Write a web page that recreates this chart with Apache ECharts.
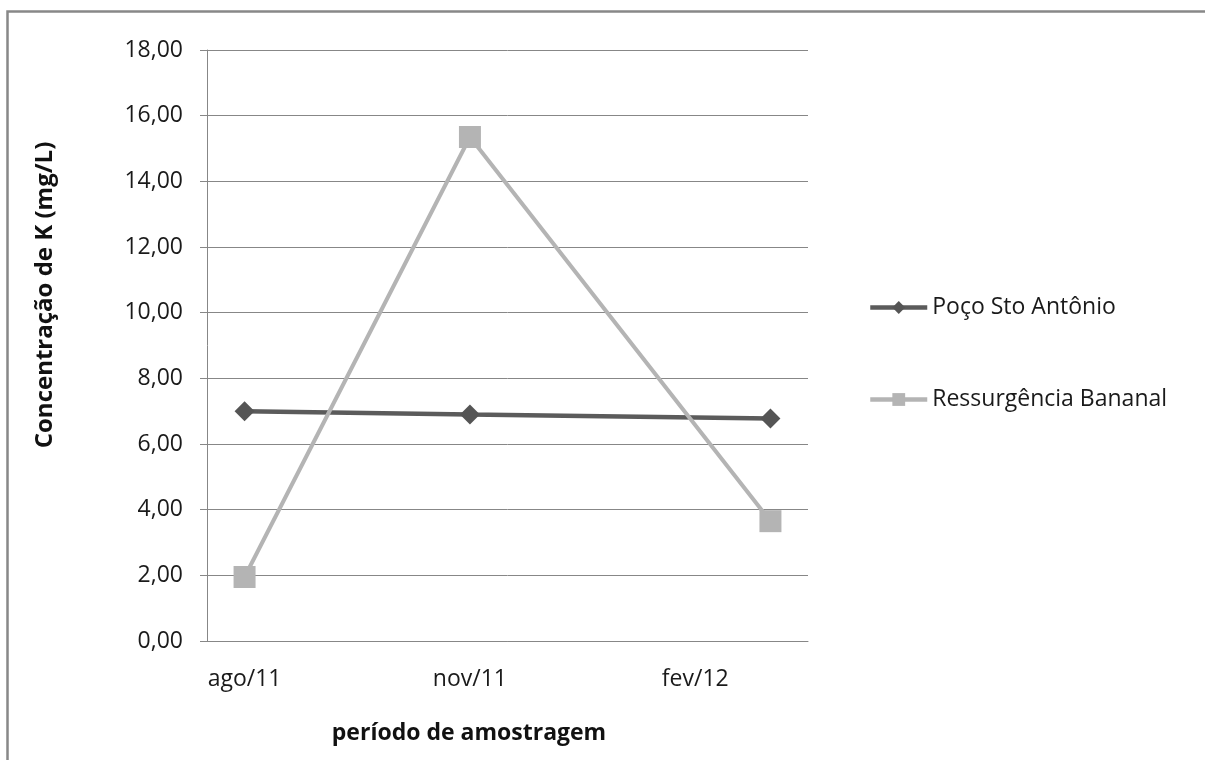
<!DOCTYPE html>
<html>
<head>
<meta charset="utf-8">
<script src="https://cdn.jsdelivr.net/npm/echarts@6/dist/echarts.min.js"></script>
<style>
  html, body { margin: 0; padding: 0; background: #ffffff; }
  #chart { width: 1205px; height: 760px; }
</style>
</head>
<body>
<div id="chart"></div>
<script>
// Monthly sampling axis (ago/11 .. mar/12); samples taken in ago/11, nov/11 and mar/12
const months = ['ago/11', 'set/11', 'out/11', 'nov/11', 'dez/11', 'jan/12', 'fev/12', 'mar/12'];
const seriesNames = ['Poço Sto Antônio', 'Ressurgência Bananal'];
// Potassium concentration (mg/L); null = no sample that month
const pocoStoAntonio = [7.00, null, null, 6.90, null, null, null, 6.78];
const ressurgenciaBananal = [1.95, null, null, 15.35, null, null, null, 3.65];
const yTicks = { min: 0, max: 18, step: 2 };
const yTitle = 'Concentração de K (mg/L)';
const xTitle = 'período de amostragem';

const FONT = '"Open Sans", "Noto Sans", sans-serif';
const GRID_COLOR = '#878787';
const DARK = '#5b5b5b';
const LIGHT = '#b4b4b4';

const chart = echarts.init(document.getElementById('chart'), null, { renderer: 'canvas' });

chart.setOption({
  backgroundColor: '#ffffff',
  animation: false,
  textStyle: { fontFamily: FONT },
  grid: { left: 207, right: 397, top: 50, bottom: 119, containLabel: false },
  xAxis: {
    type: 'category',
    data: months,
    boundaryGap: true,
    axisLine: { show: true, lineStyle: { color: GRID_COLOR, width: 1 } },
    axisTick: { show: false },
    axisLabel: {
      interval: 2,
      margin: 27,
      fontSize: 23,
      color: '#1a1a1a',
      fontFamily: FONT
    },
    splitLine: { show: false }
  },
  yAxis: {
    type: 'value',
    min: yTicks.min,
    max: yTicks.max,
    interval: yTicks.step,
    axisLine: { show: true, lineStyle: { color: GRID_COLOR, width: 1 } },
    axisTick: { show: true, inside: false, length: 7, lineStyle: { color: GRID_COLOR } },
    axisLabel: {
      margin: 24,
      fontSize: 23,
      color: '#1a1a1a',
      fontFamily: FONT,
      formatter: v => v.toFixed(2).replace('.', ',')
    },
    splitLine: { show: true, lineStyle: { color: GRID_COLOR, width: 1 } }
  },
  legend: {
    orient: 'vertical',
    left: 863,
    top: 291,
    padding: 5,
    itemWidth: 57,
    itemHeight: 16,
    itemGap: 69,
    data: seriesNames,
    lineStyle: { width: 4.5 },
    textStyle: { fontSize: 23, color: '#1a1a1a', fontFamily: FONT }
  },
  series: [
    {
      name: seriesNames[0],
      type: 'line',
      data: pocoStoAntonio,
      connectNulls: true,
      symbol: 'diamond',
      symbolSize: 20,
      showAllSymbol: true,
      lineStyle: { color: DARK, width: 4.5 },
      itemStyle: { color: '#555555' }
    },
    {
      name: seriesNames[1],
      type: 'line',
      data: ressurgenciaBananal,
      connectNulls: true,
      symbol: 'rect',
      symbolSize: 22,
      showAllSymbol: true,
      lineStyle: { color: LIGHT, width: 4 },
      itemStyle: { color: LIGHT }
    }
  ],
  graphic: [
    {
      type: 'rect',
      silent: true,
      shape: { x: 7.5, y: 11.5, width: 1400, height: 900 },
      style: { fill: 'none', stroke: '#888888', lineWidth: 2.5 }
    },
    {
      type: 'text',
      x: 45,
      y: 295,
      rotation: Math.PI / 2,
      style: {
        text: yTitle,
        font: 'bold 24px ' + FONT,
        fill: '#111111',
        align: 'center',
        verticalAlign: 'middle'
      }
    },
    {
      type: 'text',
      x: 469,
      y: 733,
      style: {
        text: xTitle,
        font: 'bold 23px ' + FONT,
        fill: '#111111',
        align: 'center',
        verticalAlign: 'middle'
      }
    }
  ]
});
</script>
</body>
</html>
